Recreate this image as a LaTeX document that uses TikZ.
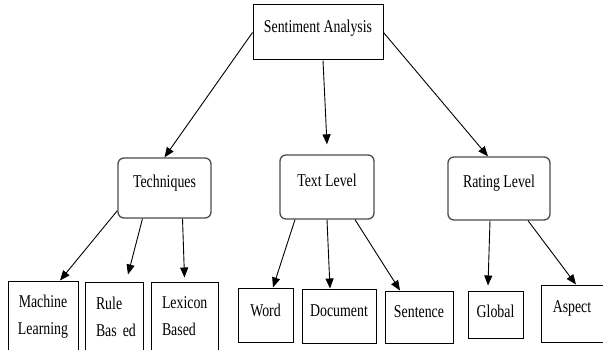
\documentclass[tikz,border=0pt]{standalone}
\usepackage{fontspec}
\usetikzlibrary{arrows.meta}
\newfontfamily\condserif[FakeStretch=0.77]{Liberation Serif}
\newcommand\boxfont{\condserif\fontsize{18}{27}\selectfont}

\begin{document}
\begin{tikzpicture}[x=1pt,y=1pt,
  every node/.style={font=\boxfont, inner sep=0pt},
  sq/.style={draw=black, line width=1pt, text height=13pt, text depth=4pt},
  rnd/.style={draw=black!70, line width=1.3pt, rounded corners=6pt, text height=13pt, text depth=4pt},
  lift/.style={text depth=#1},
  tall/.style={draw=black, line width=1pt, align=#1},
  link/.style={-{Triangle[length=10pt,width=8pt]}, line width=0.9pt}]
\useasboundingbox (0,0) rectangle (603,349);
% root
\node[sq, lift=13pt, minimum width=130, minimum height=55] (sa) at (318,316.5) {Sentiment Analysis};
% second row
\node[rnd, lift=14pt, minimum width=93, minimum height=60] (tech) at (164.5,161) {Techniques};
\node[rnd, lift=14pt, minimum width=94, minimum height=64] (txt) at (327,162) {Text Level};
\node[rnd, lift=15pt, minimum width=102, minimum height=63] (rate) at (499,160.5) {Rating Level};
% leaves
\node[tall=center, minimum width=70, minimum height=71] (ml) at (43,32.5) {Machine\\Learning};
\node[tall=left, text width=36, inner xsep=11, minimum height=69] (rule) at (114,32.5) {Rule\\\mbox{Bas ed}};
\node[tall=left, text width=45, inner xsep=11, minimum height=69] (lex) at (184.5,32.5) {Lexicon\\Based};
\node[sq, lift=10pt, minimum width=55, minimum height=54] (word) at (265.5,34) {Word};
\node[sq, lift=12pt, minimum width=74, minimum height=54] (doc) at (339,33) {Document};
\node[sq, lift=12pt, minimum width=68, minimum height=52] (sent) at (419,32) {Sentence};
\node[sq, lift=7pt, minimum width=55, minimum height=47] (glob) at (495.5,34.5) {Global};
\node[sq, lift=15pt, minimum width=62, minimum height=57] (asp) at (572,35.5) {Aspect};
% arrows
\draw[link] (sa.west) -- (tech.north);
\draw[link] ([xshift=5pt]sa.south) -- ([yshift=10pt]txt.north);
\draw[link] (sa.east) -- ([xshift=-11pt]rate.north);
\draw[link] ([yshift=8pt]tech.south west) -- ([xshift=17pt]ml.north);
\draw[link] ([xshift=-22pt]tech.south) -- ([shift={(14pt,7pt)}]rule.north);
\draw[link] ([xshift=18pt]tech.south) -- ([yshift=4pt]lex.north);
\draw[link] ([xshift=-32pt]txt.south) -- ([xshift=7.5pt]word.north);
\draw[link] (txt.south) -- ([xshift=-9pt]doc.north);
\draw[link] ([xshift=28pt]txt.south) -- ([xshift=-19pt]sent.north);
\draw[link] ([xshift=-9pt]rate.south) -- ([shift={(-7.5pt,5pt)}]glob.north);
\draw[link] ([xshift=29pt]rate.south) -- ([xshift=4pt]asp.north);
\end{tikzpicture}
\end{document}
